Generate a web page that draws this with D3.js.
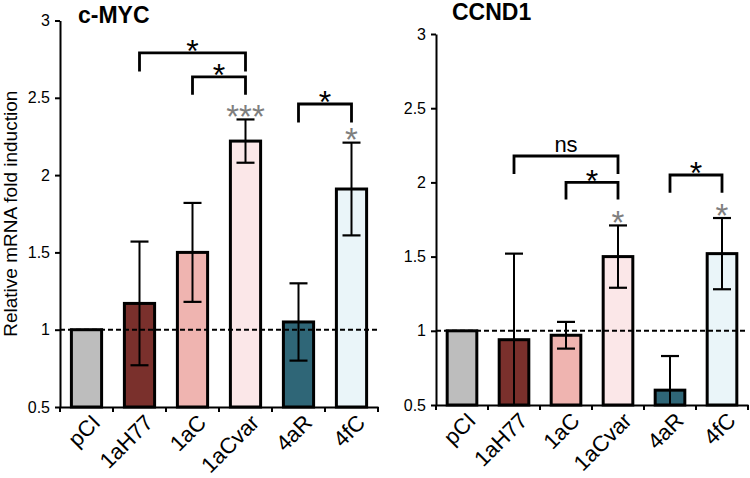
<!DOCTYPE html>
<html>
<head>
<meta charset="utf-8">
<script src="https://cdn.jsdelivr.net/npm/d3@7/dist/d3.min.js"></script>
<style>
  body { margin: 0; background: #fff; }
  text { font-family: Arial, "Liberation Sans", sans-serif; }
</style>
</head>
<body>
<div id="container"></div>
<script>
/* CONSTANTS AND DATA */
const width = 750,
    height = 478;

const categories = ["pCI", "1aH77", "1aC", "1aCvar", "4aR", "4fC"];
const barColors = ["#bdbdbd", "#7a302c", "#efb4b0", "#fbe7e8", "#2f6677", "#eaf5f9"];
const yTicks = [0.5, 1, 1.5, 2, 2.5, 3];

// c-MYC
const mycMean = [1.00, 1.17, 1.50, 2.22, 1.05, 1.91];
const mycSd = [0, 0.40, 0.32, 0.14, 0.25, 0.30];
const mycStars = ["", "", "", "***", "", "*"];
const mycBrackets = [
    { from: "1aH77", to: "1aCvar", top: 2.79, leg: 2.67, label: "*" },
    { from: "1aC", to: "1aCvar", top: 2.635, leg: 2.52, label: "*" },
    { from: "4aR", to: "4fC", top: 2.46, leg: 2.34, label: "*" }
];

// CCND1
const ccndMean = [1.00, 0.94, 0.97, 1.50, 0.60, 1.52];
const ccndSd = [0, 0.58, 0.09, 0.21, 0.23, 0.24];
const ccndStars = ["", "", "", "*", "", "*"];
const ccndBrackets = [
    { from: "1aH77", to: "1aCvar", top: 2.178, leg: 2.057, label: "ns" },
    { from: "1aC", to: "1aCvar", top: 2.0, leg: 1.885, label: "*" },
    { from: "4aR", to: "4fC", top: 2.05, leg: 1.93, label: "*" }
];

const svg = d3.select("#container")
    .append("svg")
    .attr("width", width)
    .attr("height", height);

function drawPanel(p) {
    const x = d3.scaleBand()
        .domain(categories)
        .range([p.left, p.right])
        .paddingInner(0.43)
        .paddingOuter(0.215);
    const y = d3.scaleLinear()
        .domain([0.5, 3])
        .range([p.bottom, p.top]);
    const cx = c => x(c) + x.bandwidth() / 2;

    const g = svg.append("g");

    // bars
    g.selectAll("rect.bar")
        .data(categories)
        .join("rect")
        .attr("class", "bar")
        .attr("x", d => x(d))
        .attr("y", (d, i) => y(p.mean[i]))
        .attr("width", x.bandwidth())
        .attr("height", (d, i) => y(0.5) - y(p.mean[i]))
        .attr("fill", (d, i) => barColors[i])
        .attr("stroke", "#000")
        .attr("stroke-width", 3);

    // error bars
    const capW = 9;
    categories.forEach((c, i) => {
        const sd = p.sd[i];
        if (!sd) return;
        const hi = p.mean[i] + sd;
        const lo = Math.max(0.5, p.mean[i] - sd);
        g.append("line")
            .attr("x1", cx(c)).attr("x2", cx(c))
            .attr("y1", y(hi)).attr("y2", y(lo))
            .attr("stroke", "#000").attr("stroke-width", 2);
        g.append("line")
            .attr("x1", cx(c) - capW).attr("x2", cx(c) + capW)
            .attr("y1", y(hi)).attr("y2", y(hi))
            .attr("stroke", "#000").attr("stroke-width", 2.2);
        if (p.mean[i] - sd >= 0.5) {
            g.append("line")
                .attr("x1", cx(c) - capW).attr("x2", cx(c) + capW)
                .attr("y1", y(lo)).attr("y2", y(lo))
                .attr("stroke", "#000").attr("stroke-width", 2.2);
        }
        if (p.stars[i]) {
            g.append("text")
                .attr("x", cx(c))
                .attr("y", y(hi) - 11)
                .attr("dy", "0.6em")
                .attr("text-anchor", "middle")
                .attr("font-size", 33)
                .attr("fill", "#7f7f7f")
                .text(p.stars[i]);
        }
    });

    // reference line at 1
    g.append("line")
        .attr("x1", p.left).attr("x2", p.right)
        .attr("y1", y(1)).attr("y2", y(1))
        .attr("stroke", "#000")
        .attr("stroke-width", 2)
        .attr("stroke-dasharray", "5,3");

    // y axis
    const yAxis = d3.axisLeft(y)
        .tickValues(yTicks)
        .tickFormat(d3.format(""))
        .tickSize(5)
        .tickSizeOuter(0)
        .tickPadding(5);
    const yg = g.append("g")
        .attr("transform", `translate(${p.left},0)`)
        .call(yAxis);
    yg.select(".domain").attr("stroke-width", 2);
    yg.selectAll(".tick line").attr("stroke-width", 2);
    yg.selectAll(".tick text")
        .attr("font-size", 16)
        .attr("font-family", "Arial, 'Liberation Sans', sans-serif")
        .attr("fill", "#000");

    // x axis: ticks sit between categories
    const xAxis = d3.axisBottom(x).tickSize(0).tickFormat("");
    const xg = g.append("g")
        .attr("transform", `translate(0,${p.bottom})`)
        .call(xAxis);
    xg.select(".domain").attr("stroke-width", 2);
    const edges = categories.map(c => cx(c) - x.step() / 2)
        .concat([cx(categories[categories.length - 1]) + x.step() / 2]);
    g.selectAll("line.xtick")
        .data(edges)
        .join("line")
        .attr("class", "xtick")
        .attr("x1", d => d).attr("x2", d => d)
        .attr("y1", p.bottom).attr("y2", p.bottom + 5)
        .attr("stroke", "#000").attr("stroke-width", 2);

    g.selectAll("text.xlab")
        .data(categories)
        .join("text")
        .attr("class", "xlab")
        .attr("transform", d => `translate(${cx(d) + 15},${p.bottom + 17}) rotate(-45)`)
        .attr("text-anchor", "end")
        .attr("font-size", 22)
        .text(d => d);

    // significance brackets
    p.brackets.forEach(b => {
        const x1 = cx(b.from), x2 = cx(b.to);
        g.append("path")
            .attr("d", `M${x1},${y(b.leg)}V${y(b.top)}H${x2}V${y(b.leg)}`)
            .attr("fill", "none")
            .attr("stroke", "#000")
            .attr("stroke-width", 2.8);
        const isStar = b.label === "*";
        g.append("text")
            .attr("x", (x1 + x2) / 2)
            .attr("y", y(b.top) - (isStar ? 10 : 4))
            .attr("dy", isStar ? "0.6em" : 0)
            .attr("text-anchor", "middle")
            .attr("font-size", isStar ? 32 : 22)
            .attr("fill", "#000")
            .text(b.label);
    });

    // title
    g.append("text")
        .attr("x", p.titleX)
        .attr("y", p.titleY)
        .attr("font-size", 23)
        .attr("font-weight", "bold")
        .text(p.title);
}

drawPanel({
    title: "c-MYC", titleX: 78, titleY: 23,
    left: 60, right: 378, top: 20.5, bottom: 407,
    mean: mycMean, sd: mycSd, stars: mycStars, brackets: mycBrackets
});
drawPanel({
    title: "CCND1", titleX: 452, titleY: 20,
    left: 436, right: 748, top: 34, bottom: 405,
    mean: ccndMean, sd: ccndSd, stars: ccndStars, brackets: ccndBrackets
});

// y axis title
svg.append("text")
    .attr("transform", `translate(17,${(20.5 + 407) / 2}) rotate(-90)`)
    .attr("text-anchor", "middle")
    .attr("font-size", 19)
    .text("Relative mRNA fold induction");
</script>
</body>
</html>
